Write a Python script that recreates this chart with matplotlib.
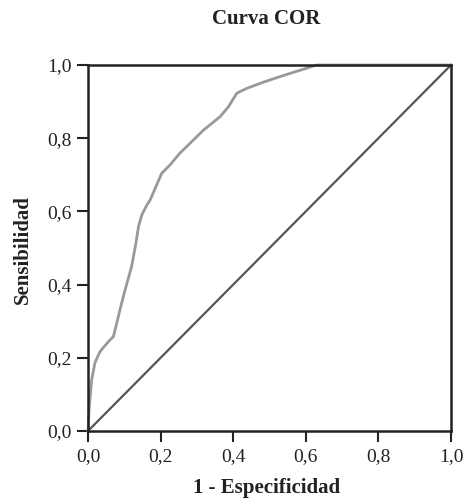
import matplotlib
matplotlib.use("Agg")
import matplotlib.pyplot as plt

# ROC curve points (1 - especificidad, sensibilidad)
fpr = [0.0, 0.003, 0.010, 0.019, 0.033, 0.056, 0.070, 0.079, 0.088, 0.102, 0.120,
       0.132, 0.139, 0.148, 0.162, 0.171, 0.203, 0.226, 0.253, 0.281, 0.318,
       0.364, 0.387, 0.410, 0.437, 0.483, 0.528, 0.630, 1.0]
tpr = [0.0, 0.060, 0.139, 0.186, 0.217, 0.244, 0.258, 0.294, 0.331, 0.385, 0.449,
       0.513, 0.558, 0.590, 0.617, 0.631, 0.704, 0.727, 0.759, 0.786, 0.822,
       0.859, 0.886, 0.923, 0.936, 0.953, 0.968, 1.0, 1.0]
ref_x = [0.0, 1.0]
ref_y = [0.0, 1.0]
ticks = [0.0, 0.2, 0.4, 0.6, 0.8, 1.0]
tick_labels = ["0,0", "0,2", "0,4", "0,6", "0,8", "1,0"]

serif = ["Liberation Serif", "DejaVu Serif"]

fig = plt.figure(figsize=(4.67, 5.01), dpi=100)
ax = fig.add_axes([88/467, 1-431/501, (451-88)/467, (431-65)/501])

ax.plot(ref_x, ref_y, color="#555555", lw=1.6, zorder=2, clip_on=False)
ax.plot(fpr, tpr, color="#999999", lw=2.0, zorder=3, clip_on=False)

ax.set_xlim(0, 1)
ax.set_ylim(0, 1)
ax.set_xticks(ticks)
ax.set_yticks(ticks)
ax.set_xticklabels(tick_labels, fontfamily=serif, fontsize=14, color="#222222")
ax.set_yticklabels(tick_labels, fontfamily=serif, fontsize=14, color="#222222")
ax.tick_params(direction="out", length=8, width=1.5, color="#222222", pad=4)

for s in ax.spines.values():
    s.set_color("#222222")
    s.set_linewidth(1.8)
    s.set_zorder(4)

fig.text(0.571, 1-19/501, "Curva COR", ha="center", va="center",
         fontfamily=serif, fontweight="bold", fontsize=15, color="#222222")
fig.text(0.571, 1-488/501, "1 - Especificidad", ha="center", va="center",
         fontfamily=serif, fontweight="bold", fontsize=15, color="#222222")
fig.text(23/467, 1-250/501, "Sensibilidad", ha="center", va="center", rotation=90,
         fontfamily=serif, fontweight="bold", fontsize=15, color="#222222")

fig.savefig("out.png", dpi=100)
